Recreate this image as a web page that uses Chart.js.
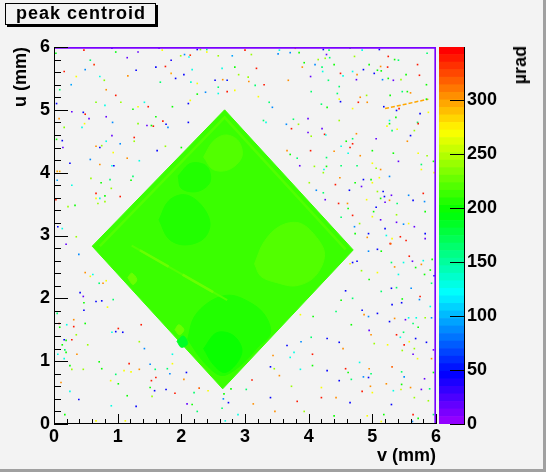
<!DOCTYPE html>
<html>
<head>
<meta charset="utf-8">
<script src="https://cdn.jsdelivr.net/npm/chart.js@4.4.1/dist/chart.umd.min.js"></script>
<style>
  html, body { margin: 0; padding: 0; background: #f3f3f3; }
  #wrap {
    position: relative; width: 546px; height: 472px; overflow: hidden;
    box-sizing: border-box; border-right: 3px solid #a0a0a0; border-bottom: 3px solid #a0a0a0;
  }
  canvas { position: absolute; left: 0; top: 0; }
  #title {
    position: absolute; left: 5px; top: 3px; width: 151px; height: 22px; box-sizing: border-box;
    border: 1px solid #000; box-shadow: 2px 2px 0 #000; padding-left: 10px;
    font: bold 18px "Liberation Sans", Arial, sans-serif; letter-spacing: 1px; line-height: 18px;
  }
  #ztitle {
    position: absolute; left: 510px; top: 46px; writing-mode: vertical-rl; transform: rotate(180deg);
    font: bold 18px "Liberation Sans", Arial, sans-serif; line-height: 20px;
  }
</style>
</head>
<body>
<div id="wrap">
  <canvas id="main" width="546" height="472"></canvas>
  <canvas id="zbar" width="546" height="472"></canvas>
  <div id="title">peak centroid</div>
  <div id="ztitle">µrad</div>
</div>
<script>
// axes
const vTicks = [0, 1, 2, 3, 4, 5, 6];
const uTicks = [0, 1, 2, 3, 4, 5, 6];
const zTicks = [0, 50, 100, 150, 200, 250, 300];
const zMax = 349;
const nColors = 50;

// the illuminated square (corners in v, u mm) and its mean centroid
const diamondV = [0.60, 2.68, 4.70, 2.65, 0.60];
const diamondU = [2.83, 5.00, 2.77, 0.56, 2.83];
const diamondZ = 213;

// lighter rim just inside the two upper edges
const rimV = [0.72, 2.68, 4.58];
const rimU = [2.83, 4.88, 2.78];
const rimZ = 222;

// patches inside the square
const patchZ = [206, 200, 206, 221, 221, 206, 184, 228, 228];
const patchPts = [
  [[2.10, 1.35], [2.30, 1.05], [2.55, 0.80], [2.70, 0.78], [2.95, 0.95], [3.20, 1.22], [3.40, 1.45],
   [3.30, 1.75], [3.05, 1.95], [2.75, 2.05], [2.45, 1.95], [2.20, 1.70]],
  [[2.35, 1.20], [2.50, 0.95], [2.68, 0.82], [2.88, 0.98], [2.95, 1.20], [2.80, 1.42], [2.55, 1.45]],
  [[1.65, 3.25], [1.80, 3.55], [2.05, 3.65], [2.30, 3.50], [2.45, 3.20], [2.35, 2.95], [2.05, 2.85], [1.80, 2.95]],
  [[3.15, 2.55], [3.30, 2.90], [3.55, 3.15], [3.85, 3.20], [4.10, 3.00], [4.25, 2.70], [4.10, 2.35],
   [3.80, 2.20], [3.50, 2.25], [3.25, 2.35]],
  [[2.35, 4.25], [2.50, 4.50], [2.70, 4.60], [2.90, 4.50], [2.95, 4.25], [2.75, 4.05], [2.50, 4.05]],
  [[1.95, 3.95], [2.15, 4.15], [2.40, 4.10], [2.45, 3.85], [2.25, 3.70], [2.00, 3.75]],
  [[1.93, 1.32], [2.03, 1.40], [2.10, 1.28], [2.00, 1.22]],
  [[1.16, 2.33], [1.22, 2.40], [1.30, 2.30], [1.24, 2.22]],
  [[1.90, 1.50], [1.96, 1.58], [2.04, 1.50], [1.97, 1.42]]
];

// diagonal bright stripe and its brightest pieces [v0, u0, v1, u1]
const stripeV = [1.22, 2.72];
const stripeU = [2.84, 1.97];
const stripeZ = 222;
const stripeHot = [[1.35, 2.765, 1.80, 2.504], [2.02, 2.376, 2.50, 2.098]];
const stripeHotZ = 230;

// orange streak near the top right
const streakV = [5.20, 5.88];
const streakU = [5.02, 5.17];
const streakZ = 300;

// edge row / column of the histogram
const topRowV = [0, 6];
const topRowU = [5.99, 5.99];
const rightColV = [5.99, 5.99];
const rightColU = [0, 6];
const edgeZ = 10;

// isolated noisy bins [v, u, value]
const noise = [
  [0.47,5.95,340],[0.91,5.98,45],[0.97,5.92,195],[1.32,5.92,15],[1.65,5.98,15],[1.70,5.95,270],[2.05,5.88,85],[2.12,5.84,125],
  [2.14,5.87,335],[2.25,5.96,45],[2.30,5.96,235],[2.40,5.92,270],[2.40,5.96,160],[2.58,5.86,240],[2.80,5.86,95],[0.03,5.90,195],
  [0.57,5.79,165],[0.63,5.72,335],[1.15,5.83,20],[1.84,5.79,40],[1.99,5.86,240],[0.49,5.64,90],[0.16,5.61,340],[0.35,5.53,270],
  [0.72,5.53,130],[0.79,5.47,235],[1.16,5.54,305],[1.29,5.63,45],[1.60,5.68,45],[1.75,5.69,340],[1.84,5.58,300],[1.91,5.50,45],
  [2.04,5.56,45],[2.17,5.64,130],[2.15,5.44,135],[2.25,5.42,270],[2.53,5.47,45],[2.64,5.66,130],[2.65,5.48,305],[2.72,5.47,50],
  [2.84,5.68,200],[2.90,5.56,240],[0.27,5.40,95],[0.09,5.32,165],[0.82,5.32,305],[0.97,5.23,340],[1.67,5.44,165],[2.25,5.25,200],
  [2.38,5.28,90],[2.58,5.36,165],[2.58,5.26,130],[2.72,5.29,340],[2.84,5.31,270],[0.04,5.10,45],[0.66,5.12,235],[0.80,5.07,130],
  [1.05,5.12,240],[1.24,5.01,200],[1.32,5.05,270],[1.42,5.12,130],[1.48,5.05,340],[1.86,5.05,200],[2.11,5.10,45],[2.14,5.15,270],
  [0.28,4.97,20],[0.46,4.96,45],[0.49,4.93,340],[0.55,4.86,20],[0.82,4.89,20],[0.08,4.86,305],[0.16,4.72,235],[0.48,4.78,270],
  [0.44,4.72,130],[0.92,4.80,90],[1.32,4.78,235],[1.46,4.75,20],[1.56,4.74,340],[1.53,4.75,200],[1.60,4.89,200],[1.71,4.82,340],
  [1.76,4.77,45],[1.79,4.72,90],[2.11,4.80,45],[0.13,4.51,45],[0.04,4.53,200],[0.14,4.40,20],[0.66,4.42,305],[0.72,4.40,45],
  [0.75,4.43,240],[0.82,4.50,130],[0.91,4.59,20],[1.04,4.46,90],[1.26,4.56,340],[1.26,4.50,240],[1.62,4.35,45],[1.75,4.42,240],
  [2.00,4.40,200],[0.93,4.32,270],[1.15,4.23,305],[1.34,4.19,130],[0.57,4.21,90],[0.25,4.15,45],[0.72,4.13,305],[0.91,4.11,130],
  [0.94,4.11,45],[0.05,4.02,300],[0.09,4.02,300],[0.05,3.88,95],[0.28,3.80,130],[0.58,3.91,240],[0.74,3.84,200],[0.88,3.89,165],
  [1.21,3.88,200],[1.24,3.94,165],[0.66,3.67,340],[0.80,3.63,200],[0.66,3.59,270],[0.72,3.59,130],[0.80,3.54,240],[0.90,3.75,240],
  [1.04,3.62,340],[0.03,3.57,340],[0.22,3.46,240],[0.33,3.48,200],[0.69,3.51,240],[0.06,3.14,45],[0.13,3.11,130],[0.35,2.98,240],
  [0.19,2.86,20],
  [3.00,5.95,340],[3.10,5.88,240],[3.52,5.89,90],[3.54,5.95,130],[3.71,5.91,90],[3.85,5.91,200],[3.79,5.98,300],[4.23,5.96,45],
  [4.28,5.88,20],[4.32,5.95,165],[4.33,5.83,165],[4.65,5.98,200],[4.72,5.85,240],[4.84,5.95,130],[5.11,5.96,45],[5.25,5.85,340],
  [5.35,5.80,200],[5.41,5.79,165],[5.71,5.72,340],[5.86,5.90,165],[3.93,5.75,200],[4.15,5.80,240],[4.10,5.72,90],[4.21,5.68,165],
  [4.26,5.82,240],[4.40,5.72,200],[3.18,5.66,340],[3.90,5.68,305],[4.03,5.53,20],[4.22,5.61,130],[4.50,5.58,340],[4.54,5.54,130],
  [4.69,5.61,130],[4.76,5.56,305],[4.86,5.64,45],[4.75,5.48,20],[4.95,5.72,200],[5.03,5.58,45],[5.08,5.63,200],[5.13,5.69,305],
  [5.14,5.62,200],[5.16,5.48,90],[5.24,5.68,340],[5.25,5.50,200],[5.33,5.47,20],[5.45,5.48,240],[5.53,5.56,200],[5.74,5.55,340],
  [5.85,5.40,200],[3.05,5.52,240],[3.06,5.45,305],[3.16,5.39,165],[3.30,5.40,340],[3.68,5.47,305],[4.31,5.47,165],[4.48,5.37,165],
  [3.21,5.21,270],[3.38,5.12,165],[3.43,5.04,90],[4.04,5.29,165],[4.45,5.26,165],[4.48,5.17,270],[4.50,5.13,45],[4.20,5.09,165],
  [4.29,5.04,200],[4.69,5.02,270],[4.78,5.12,340],[4.81,5.20,305],[4.91,5.23,240],[4.92,5.12,305],[5.28,5.23,200],[5.47,5.29,165],
  [5.55,5.29,200],[5.42,5.02,340],[5.38,4.99,45],[5.18,5.05,45],[5.60,5.27,305],[5.85,5.17,200],[5.88,4.96,270],[5.75,4.94,45],
  [3.29,4.83,165],[3.33,4.80,130],[3.65,4.77,90],[3.73,4.70,340],[3.76,4.85,165],[3.84,4.77,240],[3.99,4.86,20],[4.21,4.70,20],
  [3.99,4.64,20],[4.04,4.58,240],[4.25,4.61,340],[4.27,4.60,130],[4.48,4.83,240],[4.75,4.62,305],[4.69,4.54,165],[4.59,4.50,200],
  [4.69,4.46,340],[5.06,4.54,20],[5.27,4.83,130],[5.23,4.74,270],[5.27,4.78,200],[5.31,4.67,165],[5.39,4.69,270],[5.37,4.88,200],
  [5.66,4.67,240],[5.60,4.59,45],[5.71,4.80,165],[5.72,4.78,340],[5.55,4.50,305],[3.66,4.35,305],[3.71,4.29,200],[3.82,4.23,165],
  [4.03,4.35,340],[4.28,4.24,165],[4.40,4.34,305],[4.51,4.42,130],[4.62,4.31,130],[4.65,4.40,340],[4.81,4.27,305],[5.00,4.35,200],
  [5.00,4.15,270],[5.13,4.05,305],[5.06,4.07,240],[5.33,4.31,200],[5.41,4.18,20],[5.72,4.31,270],[5.86,4.27,240],[5.96,4.18,200],
  [5.77,4.13,165],[5.77,4.05,270],[3.86,4.11,20],[4.09,4.10,240],[4.28,4.10,200],[4.24,4.05,130],[4.51,4.11,165],[4.76,4.11,165],
  [4.23,4.00,240],[4.49,3.92,305],[4.73,3.84,200],[4.86,3.89,45],[4.83,3.78,20],[4.98,3.89,200],[5.00,3.84,270],[5.11,3.92,270],
  [5.27,3.94,90],[4.42,3.81,340],[4.64,3.72,45],[4.23,3.68,165],[4.12,3.72,90],[4.01,3.84,240],[4.26,3.57,20],[4.47,3.51,340],
  [4.61,3.51,305],[4.62,3.43,200],[4.91,3.57,270],[5.08,3.70,240],[5.17,3.70,45],[5.13,3.59,200],[5.19,3.62,45],[5.20,3.53,20],
  [5.27,3.56,305],[5.30,3.64,20],[5.39,3.51,165],[5.57,3.64,90],[5.64,3.56,45],[5.80,3.67,340],[5.82,3.54,90],[5.83,3.38,200],
  [5.06,3.45,45],[5.02,3.38,200],[5.00,3.30,270],[5.13,3.25,20],[5.38,3.33,240],[5.38,3.21,20],[5.49,3.18,90],[5.57,3.19,270],
  [5.66,3.14,20],[5.83,3.03,45],[5.83,2.95,20],[4.69,3.32,340],[4.72,3.14,90],[4.80,3.19,240],[4.73,3.03,200],[4.92,2.97,305],
  [4.94,3.03,45],[5.20,3.11,45],[5.22,3.00,130],[5.31,2.95,270],[5.44,2.98,340],[5.28,2.87,340],[4.51,3.29,165],[5.97,4.00,270],
  [0.39,2.70,90],[0.49,2.41,305],[0.61,2.38,130],[0.57,2.35,270],[0.71,2.24,165],[0.77,2.24,305],[0.82,2.28,270],[0.41,2.09,45],
  [0.46,2.03,20],[0.47,1.93,200],[0.66,1.95,45],[0.75,1.96,45],[0.93,1.98,165],[0.47,1.81,45],[0.84,1.86,270],[0.05,1.76,165],
  [0.08,1.60,340],[0.09,1.54,200],[0.20,1.58,130],[0.31,1.66,305],[0.31,1.55,340],[0.49,1.60,200],[0.35,1.42,240],[0.16,1.34,45],
  [0.19,1.33,200],[0.28,1.34,340],[0.13,1.26,200],[0.17,1.18,165],[0.19,1.14,200],[0.06,1.11,130],[0.16,1.04,130],[0.53,1.26,240],
  [0.36,1.11,305],[0.91,1.46,130],[0.97,1.47,45],[1.01,1.52,340],[1.08,1.46,45],[1.37,1.58,340],[1.34,1.31,240],[1.42,1.20,90],
  [0.25,0.93,200],[0.28,0.87,240],[0.46,0.87,240],[0.71,0.99,200],[0.75,0.88,200],[0.97,0.79,165],[1.10,0.85,270],[1.18,0.96,340],
  [1.21,0.83,270],[1.34,0.87,305],[1.51,0.95,90],[1.59,0.87,165],[1.78,0.88,165],[1.86,0.96,270],[1.82,0.80,90],[1.86,1.11,130],
  [1.53,0.69,340],[1.60,0.74,340],[1.51,0.58,200],[1.58,0.53,45],[1.54,0.44,240],[0.89,0.69,270],[1.01,0.64,200],[0.11,0.66,305],
  [0.25,0.52,130],[0.39,0.39,45],[1.15,0.45,200],[0.90,0.29,130],[1.29,0.28,45],[0.17,0.15,200],[0.66,0.05,270],[1.12,0.05,270],
  [1.76,0.55,45],[1.90,0.49,340],[2.08,0.82,45],[2.04,0.71,305],[2.09,0.32,20],[2.17,0.31,200],[2.25,0.20,165],[2.28,0.57,320],
  [2.20,0.50,165],[2.42,0.53,270],[2.67,0.48,200],[2.74,0.34,45],[2.66,0.40,90],[2.78,0.56,200],[2.64,0.25,165],[2.89,0.15,130],
  [2.69,0.05,130],
  [5.29,2.87,320],[5.53,2.92,340],[5.08,2.78,45],[5.14,2.75,200],[4.94,2.75,90],[4.69,2.57,45],[4.76,2.59,45],[4.65,2.55,270],
  [4.83,2.44,240],[5.08,2.41,270],[5.30,2.57,165],[5.35,2.50,305],[5.49,2.57,130],[5.58,2.67,340],[5.63,2.59,20],[5.68,2.49,200],
  [5.77,2.54,305],[5.80,2.60,130],[5.94,2.62,200],[5.91,2.45,200],[5.82,2.38,200],[5.97,2.36,45],[5.41,2.38,130],[5.93,2.24,165],
  [4.95,2.30,200],[4.58,2.12,45],[5.14,2.11,165],[5.30,2.16,45],[5.38,2.17,165],[5.61,2.16,90],[5.47,1.99,200],[5.46,1.93,45],
  [5.31,1.90,45],[5.75,2.03,340],[5.74,1.98,90],[5.91,1.87,130],[4.51,1.97,200],[4.69,2.00,165],[4.84,1.81,45],[4.87,1.74,305],
  [4.94,1.71,90],[5.08,1.76,45],[4.43,1.79,165],[4.07,1.71,200],[3.87,1.74,270],[5.27,1.63,45],[5.35,1.68,305],[5.52,1.66,20],
  [5.57,1.69,130],[5.64,1.60,165],[5.69,1.69,130],[5.72,1.54,200],[5.83,1.69,240],[5.93,1.69,90],[4.67,1.58,200],[4.95,1.49,20],
  [4.98,1.42,305],[5.38,1.42,340],[5.49,1.46,165],[5.44,1.38,130],[5.58,1.31,270],[5.68,1.36,45],[5.85,1.30,45],[4.29,1.36,45],
  [4.04,1.38,165],[3.88,1.31,90],[4.48,1.30,45],[4.54,1.20,305],[5.03,1.28,240],[5.24,1.26,270],[5.50,1.26,340],[5.47,1.17,240],
  [5.66,1.20,240],[5.64,1.11,20],[5.71,1.04,270],[5.96,1.18,20],[5.93,1.04,305],[3.66,1.25,45],[3.77,1.14,130],[3.71,1.06,130],
  [3.44,1.09,305],[4.06,1.11,340],[4.06,0.93,200],[3.87,0.87,130],[3.54,0.77,305],[3.40,0.91,45],[3.46,0.88,240],[3.11,0.70,340],
  [3.02,0.55,165],[4.29,0.85,45],[4.58,0.88,340],[4.62,0.82,200],[4.67,0.71,165],[4.80,0.98,130],[4.95,0.88,305],[4.98,0.80,165],
  [4.86,0.75,90],[4.94,0.74,45],[4.97,0.60,305],[4.84,0.52,340],[5.00,0.50,270],[4.48,0.69,45],[5.22,0.64,305],[5.31,0.91,320],
  [5.46,0.83,165],[5.50,0.75,90],[5.46,0.63,200],[5.60,0.58,305],[5.45,0.55,255],[5.33,0.53,130],[5.77,0.55,20],[5.90,0.56,165],
  [5.82,0.72,20],[5.96,0.82,200],[5.88,0.37,240],[5.66,0.42,240],[5.30,0.31,45],[5.18,0.15,200],[5.64,0.15,340],[5.63,0.04,90],
  [5.72,0.09,200],[5.96,0.15,165],[4.92,0.13,270],[4.65,0.34,45],[4.40,0.13,200],[4.20,0.58,270],[4.43,0.42,305],[4.20,0.42,340],
  [3.82,0.36,340],[3.73,0.60,240],[3.47,0.20,305],[3.40,0.42,45],[3.13,0.32,305],[3.93,0.20,240],[5.14,0.04,270]
];

// ROOT-like rainbow palette
function paletteColor(i) {
  const h = 280 - (i + 1) * 5.6;
  return `hsl(${h}, 100%, 50%)`;
}
function zColor(z) {
  let i = Math.floor(z / zMax * nColors);
  i = Math.max(0, Math.min(nColors - 1, i));
  return paletteColor(i);
}
const toXY = (vs, us) => vs.map((v, i) => ({ x: v, y: us[i] }));

Chart.defaults.font.family = "'Liberation Sans', Arial, sans-serif";
Chart.defaults.color = '#000';

const tickFont = { size: 18, weight: 'bold' };

function polygon(pts, z, order) {
  const c = zColor(z);
  return {
    data: pts.map(p => ({ x: p[0], y: p[1] })),
    showLine: true, fill: 'shape', tension: 0.35,
    borderColor: c, backgroundColor: c, borderWidth: 1, pointRadius: 0, order
  };
}
function segment(vs, us, z, width, order, dash) {
  return {
    data: toXY(vs, us), showLine: true, fill: false, tension: 0,
    borderColor: zColor(z), borderWidth: width, borderDash: dash || [], pointRadius: 0, order
  };
}

const datasets = [];
datasets.push(Object.assign(polygon(diamondV.map((v, i) => [v, diamondU[i]]), diamondZ, 30), { tension: 0 }));
patchPts.forEach((pts, i) => {
  datasets.push(polygon(pts.concat([pts[0]]), patchZ[i], 25 - i));
});
datasets.push(segment(rimV, rimU, rimZ, 2.5, 9));
datasets.push(segment(stripeV, stripeU, stripeZ, 2, 8));
stripeHot.forEach(s => datasets.push(segment([s[0], s[2]], [s[1], s[3]], stripeHotZ, 2.5, 7)));
datasets.push(segment(streakV, streakU, streakZ, 1.5, 4, [4, 2]));
datasets.push({
  data: noise.map(d => ({ x: d[0], y: d[1] })),
  showLine: false, pointStyle: 'rect', pointRadius: 1.15, pointBorderWidth: 0,
  pointBackgroundColor: noise.map(d => zColor(d[2])), order: 3
});
datasets.push(segment(topRowV, topRowU, edgeZ, 2, 1));
datasets.push(segment(rightColV, rightColU, edgeZ, 2, 1));

// frame and inward ticks, ROOT style
const frameTicks = {
  id: 'frameTicks',
  beforeDatasetsDraw(chart) {
    const { ctx, chartArea: a } = chart;
    ctx.save();
    ctx.strokeStyle = '#000';
    ctx.lineWidth = 1;
    ctx.beginPath();
    ctx.moveTo(a.left, a.top + 0.5); ctx.lineTo(a.right - 0.5, a.top + 0.5); ctx.lineTo(a.right - 0.5, a.bottom);
    ctx.stroke();
    ctx.restore();
  },
  afterDatasetsDraw(chart) {
    const { ctx, chartArea: a, scales: { x, y } } = chart;
    ctx.save();
    ctx.strokeStyle = '#000';
    ctx.lineWidth = 1;
    ctx.beginPath();
    ctx.moveTo(a.left + 0.5, a.top); ctx.lineTo(a.left + 0.5, a.bottom - 0.5); ctx.lineTo(a.right, a.bottom - 0.5);
    vTicks.forEach((t, i) => {
      const px = Math.round(x.getPixelForValue(t)) + 0.5;
      ctx.moveTo(px, a.bottom); ctx.lineTo(px, a.bottom - 10);
      if (i < vTicks.length - 1) {
        const step = (vTicks[i + 1] - t) / 5;
        for (let k = 1; k < 5; k++) {
          const mx = Math.round(x.getPixelForValue(t + k * step)) + 0.5;
          ctx.moveTo(mx, a.bottom); ctx.lineTo(mx, a.bottom - 5);
        }
      }
    });
    uTicks.forEach((t, i) => {
      const py = Math.round(y.getPixelForValue(t)) + 0.5;
      ctx.moveTo(a.left, py); ctx.lineTo(a.left + 14, py);
      if (i < uTicks.length - 1) {
        const step = (uTicks[i + 1] - t) / 5;
        for (let k = 1; k < 5; k++) {
          const my = Math.round(y.getPixelForValue(t + k * step)) + 0.5;
          ctx.moveTo(a.left, my); ctx.lineTo(a.left + 7, my);
        }
      }
    });
    ctx.stroke();
    ctx.restore();
  }
};

new Chart(document.getElementById('main'), {
  type: 'scatter',
  data: { datasets },
  options: {
    responsive: false,
    animation: false,
    events: [],
    layout: { padding: { left: 0, right: 110, top: 47, bottom: 0 } },
    plugins: { legend: { display: false }, tooltip: { enabled: false } },
    scales: {
      x: {
        type: 'linear', min: 0, max: 6,
        afterBuildTicks: s => { s.ticks = vTicks.map(v => ({ value: v })); },
        afterFit: s => { s.height = 48; },
        grid: { display: false, drawTicks: false },
        border: { display: false },
        ticks: { font: tickFont, padding: 2, maxRotation: 0, autoSkip: false },
        title: { display: true, text: 'v (mm)', align: 'end', font: tickFont, padding: { top: 0, bottom: 5 } }
      },
      y: {
        type: 'linear', min: 0, max: 6,
        afterBuildTicks: s => { s.ticks = uTicks.map(v => ({ value: v })); },
        afterFit: s => { s.width = 54; },
        grid: { display: false, drawTicks: false },
        border: { display: false },
        ticks: { font: tickFont, padding: 4, autoSkip: false },
        title: { display: true, text: 'u (mm)', align: 'end', font: tickFont, padding: { top: 10, bottom: 0 } }
      }
    }
  },
  plugins: [frameTicks]
});

// colour scale
const zbarTicks = {
  id: 'zbarTicks',
  afterDatasetsDraw(chart) {
    const { ctx, chartArea: a, scales: { y } } = chart;
    ctx.save();
    ctx.strokeStyle = '#000';
    ctx.lineWidth = 1;
    ctx.beginPath();
    zTicks.forEach(t => {
      const py = Math.round(y.getPixelForValue(t)) + 0.5;
      ctx.moveTo(a.right - 14, py); ctx.lineTo(a.right, py);
    });
    ctx.stroke();
    ctx.restore();
  }
};

new Chart(document.getElementById('zbar'), {
  type: 'bar',
  data: {
    labels: [''],
    datasets: Array.from({ length: nColors }, (_, i) => ({
      data: [zMax / nColors], backgroundColor: paletteColor(i), borderWidth: 0,
      barPercentage: 1, categoryPercentage: 1, stack: 'z'
    }))
  },
  options: {
    responsive: false,
    animation: false,
    events: [],
    layout: { padding: { left: 439, right: 0, top: 47, bottom: 48 } },
    plugins: { legend: { display: false }, tooltip: { enabled: false } },
    scales: {
      x: { display: false, stacked: true },
      y: {
        position: 'right', stacked: true, min: 0, max: zMax,
        afterBuildTicks: s => { s.ticks = zTicks.map(v => ({ value: v })); },
        afterFit: s => { s.width = 82; },
        grid: { display: false, drawTicks: false },
        border: { display: true, color: '#000', width: 1 },
        ticks: { font: tickFont, padding: 3, autoSkip: false }
      }
    }
  },
  plugins: [zbarTicks]
});
</script>
</body>
</html>
